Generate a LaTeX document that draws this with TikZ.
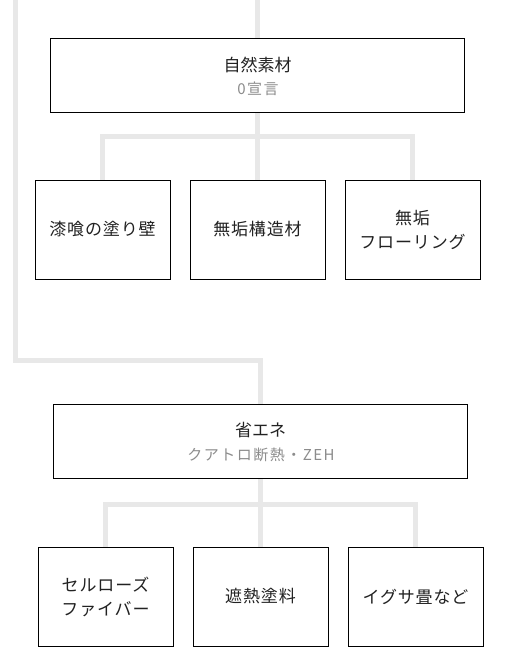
\documentclass[tikz,border=0pt]{standalone}
\usepackage{fontspec}
\setmainfont{Noto Sans CJK JP}
\usetikzlibrary{backgrounds}
\definecolor{linegrey}{HTML}{E8E8E8}
\definecolor{subgrey}{HTML}{8C8C8C}
\definecolor{textdark}{HTML}{222222}
\tikzset{
  conn/.style={draw=linegrey, line width=5pt},
  bigbox/.style={draw=black, line width=1pt, fill=white, minimum width=414pt, minimum height=74pt, inner sep=0pt},
  leafbox/.style={draw=black, line width=1pt, fill=white, minimum width=135pt, minimum height=99pt, inner sep=0pt, align=center, font=\fontsize{17}{24}\selectfont\addfontfeature{LetterSpace=5}, text=textdark},
  titletext/.style={font=\fontsize{17}{20}\selectfont, text=textdark, inner sep=0pt},
  subtext/.style={font=\fontsize{15}{18}\selectfont\addfontfeature{LetterSpace=10}, text=subgrey, inner sep=0pt}
}
\begin{document}
\begin{tikzpicture}[x=1pt,y=-1pt]
\useasboundingbox (0,0) rectangle (506,663);
% nodes
\node[bigbox] (nat) at (257.5,76) {};
\node[titletext] (natT) at (257.5,65) {自然素材};
\node[subtext] (natS) at (258,89) {0宣言};
\node[leafbox] (a1) at (102.5,229.5) {漆喰の塗り壁};
\node[leafbox] (a2) at (257.5,229.5) {無垢構造材};
\node[leafbox] (a3) at (412.5,229.5) {無垢\\フローリング};
\node[bigbox] (sav) at (260.5,441) {};
\node[titletext] (savT) at (260.5,430) {省エネ};
\node[subtext] (savS) at (261,455) {クアトロ断熱・ZEH};
\node[leafbox] (b1) at (105.5,596.5) {セルローズ\\ファイバー};
\node[leafbox] (b2) at (260.5,596.5) {遮熱塗料};
\node[leafbox] (b3) at (415.5,596.5) {イグサ畳など};
% connectors
\coordinate (topC) at (257.5,0);
\coordinate (topL) at (15,0);
\begin{scope}[on background layer]
  \draw[conn] (topC) -- (nat.north);
  \draw[conn] (nat.south) -- (a2.north);
  \draw[conn] (a1.north) -- ++(0,-42.5) -| (a3.north);
  \draw[conn] (topL) -- (15,360.5) -| (sav.north);
  \draw[conn] (sav.south) -- (b2.north);
  \draw[conn] (b1.north) -- ++(0,-42.5) -| (b3.north);
\end{scope}
\end{tikzpicture}
\end{document}
